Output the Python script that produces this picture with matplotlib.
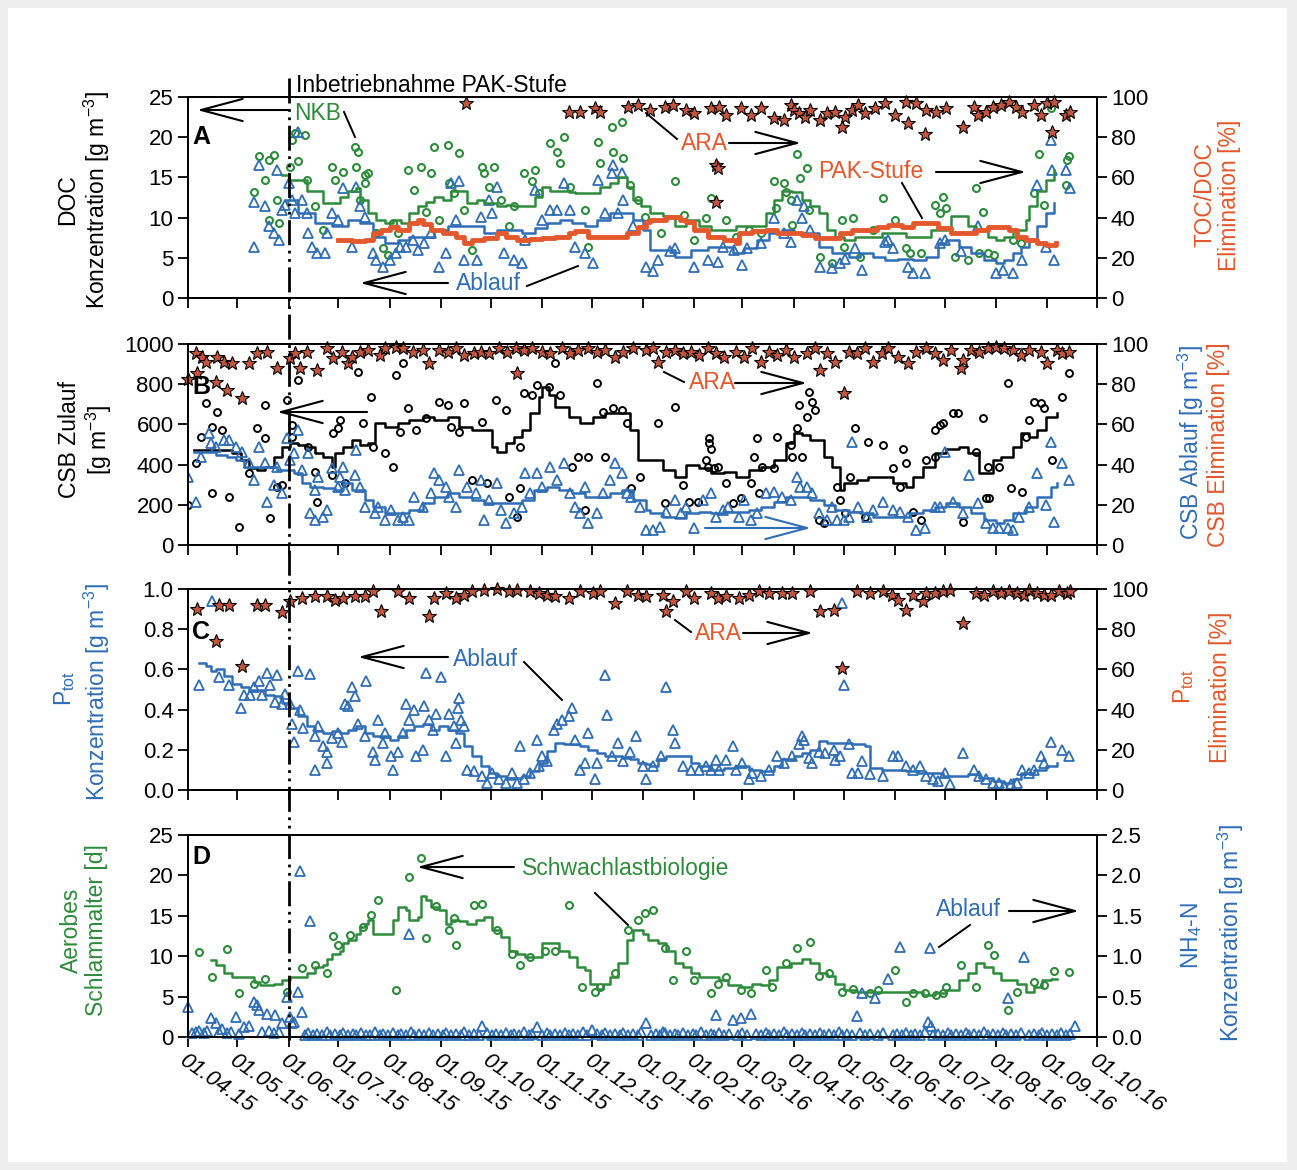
import numpy as np
import matplotlib
matplotlib.use("Agg")
import matplotlib.pyplot as plt
import matplotlib.transforms as mtransforms
import matplotlib.dates as mdates
from matplotlib.lines import Line2D
from matplotlib.patches import Rectangle, FancyArrowPatch

plt.rcParams['font.family'] = ['Liberation Sans', 'DejaVu Sans']
plt.rcParams['mathtext.fontset'] = 'custom'
plt.rcParams['mathtext.rm'] = 'Liberation Sans'
plt.rcParams['mathtext.it'] = 'Liberation Sans:italic'
plt.rcParams['mathtext.bf'] = 'Liberation Sans:bold'

START = np.datetime64('2015-04-01')
END = np.datetime64('2016-10-01')
PAK_START = np.datetime64('2015-06-01')

# (days since 01.04.15, value)
# --- A: DOC
doc_nkb = [(40,13.2),(43,17.6),(47,14.7),(49,17.2),(52,17.8),(54,12.2),(49,9.7),(55,9.3),(62,16.3),(63,19.6),
    (65,20.5),(71,20.3),(67,17.0),(72,14.7),(77,11.4),(82,8.5),(87,16.3),(89,14.7),(94,15.7),(101,18.8),
    (103,18.2),(102,16.3),(107,15.3),(109,15.5),(107,14.3),(104,12.2),(114,8.1),(118,6.2),(121,5.3),(124,9.3),
    (127,8.1),(133,15.9),(141,16.3),(147,15.5),(149,18.8),(157,19.0),(164,18.0),(137,13.4),(144,10.7),(152,9.7),
    (158,14.3),(161,13.0),(167,10.9),(172,6.0),(178,16.3),(179,15.5),(182,13.8),(185,16.3),(189,12.2),(194,8.9),
    (197,11.4),(203,15.5),(210,15.9),(208,14.5),(212,13.0),(219,19.3),(223,18.2),(227,20.0),(225,16.8),(231,13.8),
    (240,10.9),(242,6.4),(248,19.4),(249,16.8),(256,21.3),(262,21.9),(257,18.2),(263,17.4),(267,14.1),(272,12.2),
    (276,10.1),(294,14.5),(286,8.1),(300,10.3),(306,7.2),(313,9.9),(316,12.4),(325,9.7),(331,7.6),(339,8.5),
    (346,8.1),(354,14.5),(360,14.3),(355,11.2),(361,13.2),(364,12.2),(368,17.9),(365,9.1),(370,14.9),(374,16.2),
    (375,10.9),(382,5.1),(389,4.3),(395,9.7),(396,6.4),(402,9.9),(406,5.1),(414,8.5),(420,12.4),(427,9.7),
    (434,6.2),(436,5.6),(443,5.6),(451,11.6),(456,12.6),(454,10.6),(458,11.2),(463,5.1),(471,4.7),(476,13.7),
    (480,10.7),(478,5.6),(483,5.6),(487,5.3),(498,7.2),(503,6.8),(511,13.0),(514,17.9),(517,11.6),(521,23.6),
    (531,17.2),(532,17.6),(530,14.1)]
doc_ablauf = [(40,6.4),(40,12.0),(43,16.5),(47,11.4),(49,8.9),(52,8.1),(54,15.9),(55,7.2),(57,10.9),(59,11.6),
    (61,14.3),(63,12.2),(67,20.7),(65,10.6),(69,12.2),(72,10.6),(73,8.1),(75,6.4),(78,5.6),(83,5.6),
    (84,8.1),(87,10.6),(91,9.7),(94,13.7),(99,6.4),(102,13.8),(104,11.4),(107,10.1),(112,5.6),(114,4.7),
    (118,3.9),(122,4.7),(126,5.6),(128,6.4),(132,6.4),(136,7.2),(139,6.0),(143,6.8),(147,8.1),(152,3.9),
    (156,5.6),(159,14.3),(164,14.5),(162,9.7),(167,4.7),(175,4.7),(177,10.1),(182,12.2),(187,13.8),(184,10.6),
    (191,5.6),(197,4.7),(202,4.3),(204,7.2),(210,13.4),(214,9.7),(219,10.9),(223,10.9),(227,14.3),(231,10.9),
    (234,6.4),(240,5.6),(245,4.3),(248,14.7),(252,10.6),(256,15.5),(257,16.5),(262,15.5),(260,10.6),(263,12.2),
    (269,8.9),(277,3.9),(281,3.3),(284,4.7),(291,5.8),(294,6.2),(306,3.9),(314,4.7),(320,4.5),(323,6.4),
    (330,6.0),(335,4.1),(338,6.2),(346,6.8),(354,9.9),(360,8.1),(364,7.0),(368,12.2),(371,9.9),(372,11.4),
    (376,8.5),(382,3.9),(389,3.7),(394,4.3),(397,4.9),(403,6.2),(407,3.5),(421,7.0),(423,7.2),(426,6.2),
    (435,3.9),(438,3.1),(445,3.1),(454,6.8),(457,7.2),(467,5.8),(477,8.9),(488,3.1),(492,3.5),(498,3.1),
    (504,4.7),(513,14.1),(518,6.4),(522,15.9),(521,19.6),(523,4.7),(530,15.9),(533,13.7)]
doc_nkb_avg = [(57,15.3),(61,14.7),(67,14.7),(72,13.3),(77,13.3),(82,11.8),(87,11.8),(92,12.6),(97,13.3),(102,13.7),
    (104,12.2),(109,10.6),(114,9.7),(119,9.3),(124,9.7),(129,9.3),(134,10.6),(139,11.4),(144,12.0),(149,12.6),
    (154,12.2),(159,13.3),(164,13.3),(169,11.8),(175,12.2),(179,11.8),(187,11.4),(192,11.6),(197,11.4),(204,11.4),
    (210,12.6),(214,13.8),(219,13.3),(225,13.3),(230,13.2),(234,13.0),(240,13.0),(245,13.0),(249,13.8),(255,14.3),
    (260,15.0),(265,13.8),(269,12.2),(274,11.4),(279,10.6),(287,10.2),(294,9.0),(301,9.7),(309,9.0),(316,8.5),
    (324,8.5),(331,8.9),(336,9.0),(344,9.0),(349,10.6),(354,12.2),(359,13.3),(365,13.2),(371,12.2),(376,11.4),
    (381,10.6),(386,8.5),(391,7.6),(396,7.2),(403,7.6),(411,7.6),(419,8.1),(426,8.1),(434,7.6),(441,7.6),
    (449,8.5),(456,8.5),(461,10.2),(466,10.2),(471,9.0),(476,8.5),(483,7.6),(488,7.2),(493,7.6),(498,8.5),
    (503,8.5),(506,9.7),(508,11.4),(513,13.3),(518,14.7),(523,15.9)]
doc_ablauf_avg = [(59,12.2),(67,10.6),(77,9.3),(87,8.9),(97,9.7),(104,9.3),(112,7.6),(119,6.8),(127,7.2),(134,7.6),
    (142,7.6),(149,8.5),(157,8.9),(164,8.9),(172,8.9),(179,8.1),(187,8.5),(194,8.5),(202,8.1),(210,8.7),
    (217,9.3),(225,9.7),(232,9.3),(240,8.9),(247,9.7),(255,10.6),(262,10.6),(269,9.7),(275,8.5),(279,6.0),
    (294,5.1),(304,6.0),(314,6.4),(321,6.4),(329,5.6),(336,6.2),(344,7.2),(351,8.1),(359,8.5),(366,8.1),
    (374,8.1),(381,6.4),(389,5.6),(399,5.1),(406,5.6),(414,5.1),(421,4.7),(429,4.9),(438,4.7),(446,5.1),
    (453,6.8),(458,7.2),(466,6.4),(473,5.6),(481,4.7),(488,4.3),(493,4.7),(498,5.6),(503,6.4),(508,7.2),
    (513,8.9),(518,10.6),(523,11.8)]
doc_pak_elim = [(91,29.0),(99,28.2),(107,29.0),(112,32.3),(117,33.8),(122,35.5),(127,33.8),(134,37.2),(139,38.8),(142,37.0),
    (147,33.8),(154,32.3),(162,30.5),(167,27.2),(172,28.9),(179,29.7),(187,32.3),(192,30.5),(199,28.9),(207,29.5),
    (214,29.7),(222,30.5),(230,32.3),(234,33.1),(242,30.5),(249,30.5),(257,30.5),(265,32.3),(272,35.5),(277,38.0),
    (279,38.8),(289,40.5),(297,38.8),(301,38.0),(306,33.8),(314,30.5),(324,28.9),(331,27.2),(333,32.3),(341,33.1),
    (349,33.8),(356,32.3),(364,32.3),(371,31.5),(379,29.7),(386,29.7),(394,32.3),(401,33.8),(409,33.8),(416,35.5),
    (423,36.3),(431,35.5),(438,37.1),(446,37.1),(453,34.7),(461,32.3),(468,32.3),(476,33.8),(483,35.5),(491,35.5),
    (496,33.8),(501,30.5),(506,28.9),(513,27.2),(518,26.4),(524,27.2)]
doc_ara_elim = [(168,96.8),(230,92.7),(237,92.7),(246,94.4),(249,92.7),(266,95.0),(272,96.0),(279,93.5),(288,95.2),(293,96.0),
    (301,93.5),(306,92.0),(316,94.4),(321,95.2),(325,91.2),(334,94.4),(340,91.2),(346,94.4),(354,89.4),(360,88.6),
    (364,96.0),(366,93.5),(369,92.0),(373,90.2),(376,93.5),(382,88.6),(386,92.0),(391,92.7),(395,85.2),(397,90.2),
    (401,93.5),(405,96.0),(409,92.0),(415,94.4),(421,96.8),(427,91.2),(434,97.5),(435,86.9),(440,96.8),(445,81.6),
    (446,93.5),(452,92.7),(458,94.4),(468,85.2),(475,95.2),(477,91.2),(482,92.7),(486,95.2),(491,96.0),(496,97.5),
    (500,95.2),(504,92.7),(511,96.0),(515,91.2),(519,96.8),(522,82.4),(523,97.5),(530,91.2),(533,92.7),
    (319,66.0),(320,64.5),(319,47.9)]

# --- B: CSB
csb_zulauf = [(0,199),(5,406),(8,539),(11,705),(15,257),(18,663),(15,589),(21,572),(25,240),(31,91),
    (37,357),(42,580),(47,530),(47,697),(50,133),(54,290),(57,299),(60,721),(63,597),(63,539),
    (67,821),(73,489),(77,365),(78,216),(87,348),(88,556),(91,580),(92,622),(95,307),(103,862),
    (106,605),(111,738),(112,490),(119,456),(124,390),(126,846),(128,564),(130,904),(133,680),(138,572),
    (144,630),(152,713),(157,697),(159,589),(164,564),(167,705),(172,323),(178,614),(181,307),(186,721),
    (192,672),(194,240),(199,141),(201,489),(201,282),(203,755),(208,746),(211,796),(218,788),(222,904),
    (225,746),(232,390),(236,440),(240,174),(242,440),(247,804),(251,663),(252,440),(257,680),(262,672),
    (265,605),(268,282),(273,340),(284,605),(288,207),(294,688),(299,299),(303,216),(308,216),(315,506),
    (315,530),(316,480),(313,423),(314,390),(318,381),(320,390),(325,307),(329,207),(334,232),(340,307),
    (342,439),(345,257),(344,530),(347,390),(356,539),(354,381),(364,498),(365,439),(368,580),(369,697),
    (374,638),(375,763),(377,713),(379,672),(371,439),(381,124),(384,108),(392,290),(394,224),(397,158),
    (400,340),(403,580),(409,141),(411,514),(420,498),(426,381),(430,290),(432,480),(434,406),(438,166),
    (443,124),(446,423),(451,440),(451,572),(454,597),(456,605),(462,655),(465,655),(468,116),(476,464),
    (482,232),(484,232),(480,630),(483,390),(490,390),(495,804),(497,282),(504,265),(506,539),(508,622),
    (511,713),(515,705),(517,680),(522,423),(528,738),(532,854)]
csb_zulauf_avg = [(4,473),(11,473),(19,473),(27,456),(32,423),(37,381),(42,373),(47,390),(52,440),(57,490),
    (62,506),(67,498),(72,490),(77,456),(82,440),(87,390),(89,456),(94,490),(99,522),(104,498),
    (109,506),(113,605),(119,589),(127,605),(134,622),(142,638),(149,622),(157,638),(164,589),(172,572),
    (179,572),(184,490),(187,464),(192,506),(197,539),(202,572),(207,655),(212,738),(214,788),(218,746),
    (222,688),(230,638),(237,605),(245,638),(252,655),(260,655),(267,572),(272,423),(277,423),(279,423),
    (287,373),(294,340),(301,398),(309,381),(316,357),(324,365),(331,340),(339,373),(346,390),(354,423),
    (361,506),(366,556),(371,548),(376,522),(384,440),(389,390),(394,274),(396,307),(404,323),(411,340),
    (419,340),(426,307),(434,290),(438,340),(444,390),(451,456),(458,480),(466,489),(471,456),(478,357),
    (486,423),(491,440),(498,490),(503,556),(508,539),(513,572),(518,638),(525,655)]
csb_ablauf = [(0,34.0),(5,21.6),(8,44.0),(13,55.6),(14,50.6),(17,49.0),(22,52.2),(25,52.2),(29,49.0),(33,46.4),
    (37,40.6),(40,32.3),(43,49.0),(47,40.6),(48,21.6),(52,29.9),(54,39.0),(57,25.7),(60,53.0),(62,42.3),
    (64,45.6),(67,57.2),(69,37.3),(73,45.6),(77,27.4),(79,34.0),(74,15.8),(77,12.4),(82,14.1),(84,17.4),
    (87,38.1),(91,29.0),(92,34.0),(94,39.0),(95,27.4),(101,34.8),(102,47.3),(104,29.0),(107,19.0),(113,15.8),
    (115,19.0),(119,12.4),(123,17.4),(127,12.4),(130,14.1),(134,12.4),(137,24.0),(142,19.0),(147,25.7),(149,35.7),
    (152,32.3),(156,29.0),(158,24.0),(162,19.0),(164,37.3),(169,29.0),(174,25.7),(177,32.3),(179,12.4),(182,22.4),
    (187,30.7),(189,17.4),(192,10.8),(197,15.8),(202,19.0),(204,35.7),(207,25.7),(211,35.7),(214,29.0),(219,39.0),
    (223,32.3),(227,40.6),(231,25.7),(234,19.0),(237,15.8),(240,29.0),(242,10.8),(247,15.8),(251,25.7),(255,32.3),
    (258,40.6),(262,35.7),(265,25.7),(268,24.0),(273,19.0),(277,7.5),(281,7.5),(285,9.1),(289,16.6),(294,22.4),
    (298,15.8),(301,19.0),(306,8.3),(311,22.4),(316,25.7),(319,14.1),(323,17.4),(326,19.0),(333,14.1),(336,22.4),
    (340,12.4),(344,15.8),(349,25.7),(354,26.5),(359,24.0),(364,22.4),(368,34.0),(370,29.0),(374,29.0),(377,25.7),
    (381,15.8),(386,12.4),(389,19.0),(392,12.4),(396,12.4),(399,14.1),(401,51.4),(405,19.0),(410,14.1),(414,17.4),
    (420,21.6),(426,17.4),(430,16.6),(435,14.1),(440,7.5),(445,8.3),(451,19.0),(454,19.0),(457,46.4),(462,21.6),
    (468,15.8),(472,34.8),(477,20.7),(482,10.8),(486,8.3),(490,8.3),(495,8.3),(498,7.5),(502,14.1),(508,19.0),
    (513,35.7),(518,19.9),(521,51.4),(523,11.6),(528,40.6),(532,32.3)]
csb_ablauf_avg = [(4,46.4),(11,46.4),(17,44.8),(24,44.0),(29,42.3),(34,39.0),(44,39.0),(49,39.0),(54,37.3),(59,37.3),
    (64,35.7),(69,30.7),(74,29.0),(82,28.2),(89,27.4),(94,30.7),(99,27.4),(107,22.4),(112,19.0),(119,15.8),
    (127,15.8),(134,17.4),(142,20.7),(149,24.0),(157,25.7),(164,24.0),(172,22.4),(179,20.7),(194,20.7),(202,22.4),
    (209,27.4),(217,29.0),(224,27.4),(232,25.7),(240,24.0),(247,24.0),(255,25.7),(262,27.4),(269,22.4),(277,17.4),
    (279,15.8),(287,14.1),(294,13.3),(301,15.8),(309,16.6),(316,15.8),(324,16.6),(331,16.6),(339,17.4),(346,19.0),
    (354,21.6),(361,24.0),(369,24.0),(376,22.4),(384,19.9),(391,17.4),(399,16.6),(406,15.8),(414,14.1),(429,14.1),
    (436,15.8),(444,17.4),(451,19.0),(458,20.7),(466,19.0),(473,15.8),(481,12.4),(488,10.8),(493,12.4),(498,15.8),
    (506,19.0),(513,24.0),(521,29.0),(525,30.7)]
csb_ara_elim = [(0,82.4),(6,85.4),(17,81.3),(24,77.0),(33,73.0),(5,95.4),(9,93.7),(11,91.2),(18,93.7),(22,91.2),
    (27,90.4),(37,90.4),(42,95.4),(48,96.2),(54,87.9),(62,92.9),(65,95.4),(68,87.9),(72,96.2),(78,87.0),
    (84,97.8),(88,92.9),(93,96.2),(97,90.4),(99,93.7),(104,96.2),(109,97.0),(116,94.5),(119,97.8),(126,98.7),
    (130,97.8),(136,96.2),(142,97.0),(146,90.4),(152,97.0),(157,96.2),(162,97.8),(167,94.5),(173,95.4),(177,96.2),
    (182,95.4),(188,97.8),(193,96.2),(199,85.4),(198,97.8),(203,97.0),(208,97.8),(214,96.2),(219,95.4),(226,97.8),
    (231,95.4),(236,97.0),(242,97.8),(247,96.2),(252,97.0),(258,93.7),(263,96.2),(269,97.8),(277,97.0),(281,97.8),
    (284,91.2),(289,96.2),(294,97.0),(299,95.4),(304,96.2),(309,94.5),(314,97.8),(319,95.4),(324,93.7),(331,96.2),
    (336,93.7),(341,97.8),(346,91.2),(351,96.2),(356,94.5),(361,97.0),(366,93.7),(374,95.4),(379,97.8),(382,87.0),
    (386,95.4),(391,91.2),(396,75.5),(399,96.2),(404,95.4),(409,97.8),(414,91.2),(419,95.4),(423,97.8),(429,93.7),
    (435,90.4),(440,96.2),(446,97.8),(451,95.4),(456,92.0),(461,97.0),(467,87.9),(468,92.0),(473,97.0),(478,96.2),
    (483,97.8),(488,98.7),(493,97.8),(498,97.0),(503,94.5),(508,97.0),(515,96.2),(519,90.4),(525,97.0),(528,95.4),
    (532,96.2)]

# --- C: Ptot
p_ablauf = [(7,0.52),(15,0.94),(19,0.56),(25,0.52),(32,0.41),(34,0.475),(38,0.475),(40,0.51),(43,0.54),(45,0.475),
    (48,0.58),(50,0.52),(54,0.57),(53,0.44),(57,0.43),(59,0.48),(62,0.43),(63,0.33),(64,0.24),(67,0.59),
    (68,0.40),(70,0.31),(74,0.575),(77,0.27),(79,0.32),(77,0.10),(82,0.22),(84,0.19),(84,0.135),(87,0.26),
    (91,0.285),(93,0.24),(95,0.43),(97,0.42),(99,0.51),(101,0.47),(103,0.33),(107,0.27),(108,0.54),(112,0.19),
    (113,0.15),(115,0.35),(118,0.235),(119,0.285),(123,0.17),(124,0.10),(127,0.19),(130,0.285),(132,0.43),(134,0.35),
    (137,0.40),(138,0.17),(142,0.20),(143,0.42),(146,0.35),(148,0.30),(144,0.58),(153,0.56),(150,0.38),(156,0.17),
    (158,0.38),(161,0.32),(163,0.41),(164,0.46),(165,0.35),(162,0.235),(167,0.32),(169,0.10),(173,0.094),(178,0.07),
    (181,0.036),(184,0.086),(188,0.053),(192,0.036),(196,0.086),(199,0.036),(201,0.22),(203,0.053),(207,0.086),(211,0.25),
    (212,0.12),(214,0.17),(217,0.145),(221,0.30),(223,0.33),(226,0.35),(230,0.37),(232,0.41),(234,0.25),(237,0.10),
    (240,0.135),(242,0.285),(246,0.053),(247,0.135),(252,0.57),(253,0.375),(256,0.17),(260,0.235),(263,0.145),(267,0.19),
    (271,0.27),(275,0.12),(277,0.053),(281,0.12),(286,0.17),(289,0.51),(293,0.30),(294,0.235),(299,0.12),(304,0.10),
    (309,0.10),(313,0.12),(316,0.10),(319,0.15),(321,0.10),(325,0.15),(329,0.22),(331,0.10),(335,0.135),(339,0.053),
    (341,0.086),(346,0.07),(351,0.10),(356,0.17),(360,0.135),(365,0.17),(369,0.227),(371,0.27),(372,0.25),(375,0.16),
    (377,0.135),(381,0.19),(385,0.185),(390,0.20),(391,0.15),(394,0.17),(396,0.52),(395,0.93),(399,0.227),(401,0.086),
    (405,0.086),(407,0.145),(412,0.078),(420,0.07),(426,0.17),(429,0.17),(434,0.12),(438,0.10),(442,0.12),(446,0.07),
    (450,0.053),(453,0.045),(457,0.086),(460,0.028),(468,0.185),(475,0.10),(478,0.07),(482,0.053),(486,0.036),(490,0.036),
    (493,0.02),(497,0.028),(501,0.036),(504,0.10),(508,0.086),(511,0.10),(515,0.17),(517,0.135),(521,0.24),(528,0.20),
    (532,0.17)]
p_ablauf_avg = [(7,0.63),(11,0.615),(14,0.59),(17,0.60),(22,0.565),(27,0.525),(32,0.51),(37,0.50),(42,0.50),(47,0.475),
    (52,0.467),(57,0.434),(60,0.434),(62,0.41),(67,0.367),(72,0.318),(77,0.293),(82,0.285),(87,0.293),(92,0.285),
    (97,0.30),(102,0.318),(107,0.285),(112,0.268),(117,0.268),(122,0.25),(127,0.268),(132,0.30),(137,0.318),(142,0.326),
    (147,0.30),(152,0.318),(157,0.30),(162,0.285),(167,0.218),(172,0.169),(177,0.12),(182,0.086),(187,0.07),(192,0.053),
    (197,0.06),(202,0.07),(207,0.094),(212,0.136),(217,0.194),(222,0.235),(227,0.227),(232,0.227),(237,0.218),(242,0.20),
    (247,0.185),(252,0.169),(257,0.169),(262,0.16),(267,0.152),(272,0.136),(277,0.127),(279,0.12),(284,0.152),(289,0.169),
    (299,0.169),(304,0.136),(309,0.12),(316,0.10),(324,0.11),(331,0.12),(339,0.10),(346,0.094),(354,0.12),(359,0.152),
    (366,0.169),(371,0.185),(376,0.20),(381,0.243),(386,0.235),(394,0.235),(401,0.227),(409,0.218),(412,0.11),(419,0.10),
    (426,0.10),(434,0.094),(441,0.086),(449,0.086),(456,0.07),(463,0.07),(471,0.078),(478,0.061),(486,0.045),(493,0.036),
    (498,0.053),(503,0.086),(511,0.10),(518,0.12),(525,0.136)]
p_ara_elim = [(6,90.0),(17,74.0),(19,92.2),(25,92.2),(33,61.6),(42,92.2),(47,92.2),(57,88.4),(62,93.9),(69,95.5),
    (77,96.4),(84,96.4),(89,94.7),(94,95.5),(101,96.4),(107,96.4),(112,98.8),(117,89.0),(127,98.8),(134,95.5),
    (146,86.4),(149,95.5),(156,98.0),(162,95.5),(167,97.2),(172,98.8),(179,99.7),(187,100.0),(194,98.8),(199,99.7),
    (207,98.8),(212,98.0),(217,97.2),(222,96.4),(230,95.5),(237,98.8),(245,98.0),(249,98.8),(258,93.0),(265,98.8),
    (272,97.2),(277,96.4),(287,97.2),(289,89.0),(293,93.9),(301,98.8),(306,95.5),(316,98.0),(320,95.5),(325,96.4),
    (333,95.5),(339,97.2),(345,98.8),(351,98.0),(359,98.0),(365,98.0),(376,98.8),(382,89.0),(390,89.7),(395,60.8),
    (404,98.8),(412,98.0),(420,98.8),(425,97.2),(429,94.7),(434,89.7),(438,97.2),(444,93.9),(446,98.0),(451,98.0),
    (456,98.8),(460,99.7),(468,83.1),(476,98.0),(481,97.2),(486,98.8),(491,98.0),(496,98.8),(501,98.0),(505,97.2),
    (508,99.7),(513,98.0),(517,97.2),(521,97.2),(526,98.8),(531,98.0),(533,98.8)]

# --- D: Schlammalter, NH4-N
sludge_age = [(7,10.5),(15,7.4),(24,10.95),(31,5.4),(40,6.6),(47,7.2),(60,5.6),(69,8.5),(77,8.9),(84,7.9),
    (88,12.5),(91,11.4),(98,12.6),(106,13.6),(111,15.1),(115,17.0),(126,5.8),(134,19.8),(141,22.1),(144,12.2),
    (150,16.2),(158,13.2),(161,14.7),(162,11.4),(173,16.3),(178,16.5),(187,13.2),(196,10.3),(201,8.9),(207,9.9),
    (216,10.7),(222,10.7),(230,16.3),(238,6.2),(246,5.6),(249,6.2),(258,7.9),(266,13.2),(272,14.5),(276,15.3),
    (281,15.7),(288,11.0),(293,7.0),(301,10.7),(306,7.0),(316,5.4),(320,6.6),(325,7.4),(334,5.8),(340,5.4),
    (349,8.3),(353,6.2),(361,9.1),(368,11.0),(376,11.8),(381,7.6),(387,7.9),(395,5.6),(402,6.0),(412,5.4),
    (417,5.8),(427,8.3),(434,4.3),(438,5.4),(445,5.4),(452,5.2),(456,5.4),(458,6.2),(467,8.9),(476,6.2),
    (483,11.4),(487,10.1),(495,3.3),(501,5.6),(511,6.8),(517,6.4),(523,8.2),(532,8.0)]
sludge_age_avg = [(14,9.5),(17,8.9),(22,7.9),(27,7.4),(37,7.4),(40,6.8),(44,6.4),(52,6.6),(57,7.0),(60,7.0),
    (62,7.4),(67,7.4),(72,7.9),(77,8.7),(82,8.9),(84,9.7),(87,10.3),(92,10.7),(94,11.6),(97,12.0),
    (102,12.8),(104,13.6),(107,14.0),(109,14.5),(112,12.8),(119,12.8),(124,14.5),(127,16.1),(132,15.7),(134,14.5),
    (139,14.9),(141,17.4),(144,16.9),(147,16.1),(152,15.7),(156,14.0),(159,14.5),(164,14.3),(169,14.0),(174,14.5),
    (179,14.9),(184,13.2),(189,12.4),(194,10.7),(199,10.3),(204,9.9),(209,9.9),(214,11.6),(219,11.6),(224,10.7),
    (230,9.9),(235,8.7),(240,8.3),(243,6.6),(247,6.0),(251,6.6),(255,7.4),(260,9.1),(265,12.0),(269,13.2),
    (275,12.8),(278,12.0),(284,11.6),(289,10.7),(294,9.1),(299,8.7),(304,7.9),(309,7.4),(316,7.4),(321,7.0),
    (326,6.4),(334,6.2),(341,6.6),(346,6.4),(351,7.0),(356,8.7),(364,9.1),(371,9.7),(376,9.1),(381,7.9),
    (386,7.6),(391,6.6),(396,5.8),(404,5.6),(419,5.6),(438,5.6),(444,5.2),(451,5.4),(458,5.8),(466,7.0),
    (471,7.9),(476,9.1),(481,8.7),(486,7.9),(491,7.0),(496,7.0),(501,6.6),(506,5.6),(511,6.2),(516,7.0),
    (521,7.2),(525,7.2)]
nh4_ablauf = [(0,0.37),(3,0.05),(5,0.06),(7,0.08),(10,0.05),(12,0.07),(14,0.23),(17,0.17),(19,0.06),(21,0.10),
    (24,0.05),(26,0.06),(29,0.25),(31,0.04),(34,0.12),(37,0.14),(40,0.43),(42,0.39),(43,0.33),(45,0.06),
    (48,0.29),(49,0.08),(52,0.05),(53,0.27),(55,0.06),(57,0.17),(60,0.50),(62,0.25),(63,0.17),(64,0.19),
    (67,0.56),(68,2.05),(69,0.31),(74,1.43),(134,1.28),(211,0.12),(277,0.17),(319,0.27),(329,0.21),(334,0.23),
    (340,0.29),(404,0.26),(407,0.54),(415,0.48),(423,0.72),(430,1.12),(448,1.10),(447,0.19),(449,0.14),(495,0.48),
    (505,0.99),(536,0.14),(178,0.14),(244,0.09),(287,0.06),
    (71,0.03),(73,0.05),(76,0.02),(78,0.04),(81,0.03),(84,0.06),(86,0.02),(89,0.04),(92,0.03),(94,0.05),
    (97,0.02),(100,0.04),(102,0.03),(105,0.05),(108,0.02),(110,0.03),(113,0.06),(116,0.02),(118,0.04),(121,0.03),
    (124,0.05),(127,0.02),(129,0.04),(132,0.03),(135,0.06),(137,0.02),(140,0.04),(143,0.03),(146,0.05),(148,0.02),
    (151,0.04),(154,0.03),(156,0.05),(159,0.02),(162,0.04),(165,0.03),(167,0.06),(170,0.02),(173,0.04),(176,0.03),
    (181,0.05),(184,0.02),(186,0.04),(189,0.03),(192,0.05),(195,0.02),(197,0.04),(200,0.03),(203,0.06),(206,0.02),
    (208,0.04),(214,0.03),(217,0.05),(219,0.02),(222,0.04),(225,0.03),(228,0.05),(230,0.02),(233,0.04),(236,0.03),
    (239,0.06),(241,0.02),(247,0.04),(250,0.03),(252,0.05),(255,0.02),(258,0.04),(261,0.03),(263,0.05),(266,0.02),
    (269,0.04),(272,0.03),(274,0.06),(280,0.02),(283,0.04),(285,0.03),(288,0.05),(291,0.02),(294,0.04),(296,0.03),
    (299,0.05),(302,0.02),(305,0.04),(307,0.03),(310,0.06),(313,0.02),(316,0.04),(318,0.03),(321,0.05),(324,0.02),
    (327,0.04),(332,0.03),(335,0.05),(338,0.02),(343,0.04),(346,0.03),(349,0.05),(351,0.02),(354,0.04),(357,0.03),
    (360,0.06),(362,0.02),(365,0.04),(368,0.03),(371,0.05),(373,0.02),(376,0.04),(379,0.03),(382,0.05),(384,0.02),
    (387,0.04),(390,0.03),(393,0.06),(395,0.02),(398,0.04),(401,0.03),(406,0.05),(409,0.02),(412,0.04),(417,0.03),
    (420,0.05),(426,0.02),(428,0.04),(431,0.03),(434,0.05),(437,0.02),(439,0.04),(442,0.03),(445,0.06),(450,0.02),
    (453,0.04),(456,0.03),(459,0.05),(461,0.02),(464,0.04),(467,0.03),(470,0.05),(472,0.02),(475,0.04),(478,0.03),
    (481,0.06),(483,0.02),(486,0.04),(489,0.03),(492,0.05),(494,0.02),(497,0.04),(500,0.03),(503,0.05),(508,0.02),
    (511,0.04),(514,0.03),(516,0.05),(519,0.02),(522,0.04),(525,0.03),(527,0.05),(530,0.02),(533,0.04)]

GREEN = '#2e8b3c'
BLUE = '#2f6db5'
ORANGE = '#e3582c'
STARFACE = '#c4553a'


def xs(pairs):
    return START + np.array([p[0] for p in pairs]).astype('timedelta64[D]')


def ys(pairs):
    return np.array([p[1] for p in pairs], dtype=float)


W, H = 1297, 1170
fig = plt.figure(figsize=(W / 100, H / 100), dpi=100, facecolor='#eeeeee')
fig.patches.append(Rectangle((8 / W, 8 / H), 1279 / W, 1154 / H, transform=fig.transFigure,
                             facecolor='white', edgecolor='none', zorder=-10))

tick_dates = np.arange(np.datetime64('2015-04'), np.datetime64('2016-11'),
                       dtype='datetime64[M]').astype('datetime64[D]')
tick_labels = [d.astype(object).strftime('%d.%m.%y') for d in tick_dates]


def fp(x, y):
    return (x / W, 1 - y / H)


def make_panel(top, bottom, show_dates=False):
    ax = fig.add_axes([187.5 / W, 1 - bottom / H, 909.5 / W, (bottom - top) / H])
    tx = ax.twinx()
    ax.set_xlim(START, END)
    ax.set_xticks(tick_dates)
    if show_dates:
        ax.set_xticklabels(tick_labels, rotation=-35, ha='left', va='top',
                           rotation_mode='anchor', fontstyle='italic', fontsize=16.5)
    else:
        ax.set_xticklabels([])
    for a in (ax, tx):
        a.tick_params(direction='out', length=7, width=1.3, labelsize=16, pad=3)
        for s in a.spines.values():
            s.set_linewidth(1.3)
    ax.tick_params(axis='x', pad=2)
    return ax, tx


ms_c, ms_t, ms_s = 5, 6.5, 10.5
STEP = 'steps-post'

# ---------- Panel A
axA, txA = make_panel(97, 298)
axA.plot(xs(doc_nkb), ys(doc_nkb), 'o', mfc='none', mec=GREEN, ms=ms_c, mew=1.5)
axA.plot(xs(doc_ablauf), ys(doc_ablauf), '^', mfc='none', mec=BLUE, ms=ms_t, mew=1.3)
axA.plot(xs(doc_ablauf_avg), ys(doc_ablauf_avg), '-', color=BLUE, lw=1.8, drawstyle=STEP)
axA.plot(xs(doc_nkb_avg), ys(doc_nkb_avg), '-', color=GREEN, lw=1.8, drawstyle=STEP)
axA.set_ylim(0, 25)
axA.set_yticks([0, 5, 10, 15, 20, 25])
txA.plot(xs(doc_pak_elim), ys(doc_pak_elim), '-', color=ORANGE, lw=3.5, drawstyle=STEP)
txA.plot(xs(doc_ara_elim), ys(doc_ara_elim), '*', mfc=STARFACE, mec='black', ms=ms_s, mew=0.8, clip_on=False)
txA.set_ylim(0, 100)
txA.set_yticks([0, 20, 40, 60, 80, 100])

# ---------- Panel B
axB, txB = make_panel(344, 545)
axB.plot(xs(csb_zulauf), ys(csb_zulauf), 'o', mfc='none', mec='black', ms=ms_c, mew=1.4)
axB.plot(xs(csb_zulauf_avg), ys(csb_zulauf_avg), '-', color='black', lw=1.8, drawstyle=STEP)
axB.set_ylim(0, 1000)
axB.set_yticks([0, 200, 400, 600, 800, 1000])
txB.plot(xs(csb_ablauf), ys(csb_ablauf), '^', mfc='none', mec=BLUE, ms=ms_t, mew=1.3)
txB.plot(xs(csb_ablauf_avg), ys(csb_ablauf_avg), '-', color=BLUE, lw=1.8, drawstyle=STEP)
txB.plot(xs(csb_ara_elim), ys(csb_ara_elim), '*', mfc=STARFACE, mec='black', ms=ms_s, mew=0.8, clip_on=False)
txB.set_ylim(0, 100)
txB.set_yticks([0, 20, 40, 60, 80, 100])

# ---------- Panel C
axC, txC = make_panel(589, 790)
axC.plot(xs(p_ablauf), ys(p_ablauf), '^', mfc='none', mec=BLUE, ms=ms_t, mew=1.3)
axC.plot(xs(p_ablauf_avg), ys(p_ablauf_avg), '-', color=BLUE, lw=1.8, drawstyle=STEP)
axC.set_ylim(0, 1.0)
axC.set_yticks([0, 0.2, 0.4, 0.6, 0.8, 1.0])
axC.set_yticklabels(['0.0', '0.2', '0.4', '0.6', '0.8', '1.0'])
txC.plot(xs(p_ara_elim), ys(p_ara_elim), '*', mfc=STARFACE, mec='black', ms=ms_s, mew=0.8, clip_on=False)
txC.set_ylim(0, 100)
txC.set_yticks([0, 20, 40, 60, 80, 100])

# ---------- Panel D
axD, txD = make_panel(835, 1037, show_dates=True)
axD.plot(xs(sludge_age), ys(sludge_age), 'o', mfc='none', mec=GREEN, ms=ms_c, mew=1.5)
axD.plot(xs(sludge_age_avg), ys(sludge_age_avg), '-', color=GREEN, lw=1.8, drawstyle=STEP)
axD.set_ylim(0, 25)
axD.set_yticks([0, 5, 10, 15, 20, 25])
txD.plot(xs(nh4_ablauf), ys(nh4_ablauf), '^', mfc='none', mec=BLUE, ms=ms_t, mew=1.3, clip_on=False)
txD.set_ylim(0, 2.5)
txD.set_yticks([0, 0.5, 1.0, 1.5, 2.0, 2.5])
txD.set_yticklabels(['0.0', '0.5', '1.0', '1.5', '2.0', '2.5'])

# panel letters (under the twin-axis stars)
for letter, py in (('A', 137), ('B', 387), ('C', 632), ('D', 857)):
    fig.text(*fp(192, py), letter, fontsize=18, fontweight='bold', ha='left', va='center', zorder=0.5)

# axis labels
FS = 16.5


def vlabel(x, y, s, color):
    fig.text(*fp(x, y), s, rotation=90, ha='center', va='center', multialignment='center',
             fontsize=FS, color=color, linespacing=1.1)


vlabel(84, 200, 'DOC\nKonzentration [g m$^{-3}$]', 'black')
vlabel(1217, 195, 'TOC/DOC\nElimination [%]', ORANGE)
vlabel(86, 440, 'CSB Zulauf\n[g m$^{-3}$]', 'black')
vlabel(1191, 443, 'CSB Ablauf [g m$^{-3}$]', BLUE)
vlabel(1219, 445, 'CSB Elimination [%]', ORANGE)
vlabel(65, 688, 'P$_{\\rm tot}$', BLUE)
vlabel(97, 692, 'Konzentration [g m$^{-3}$]', BLUE)
vlabel(1184, 686, 'P$_{\\rm tot}$', ORANGE)
vlabel(1221, 687, 'Elimination [%]', ORANGE)
vlabel(84, 930, 'Aerobes\nSchlammalter [d]', GREEN)
vlabel(1192, 935, 'NH$_4$-N', BLUE)
vlabel(1231, 933, 'Konzentration [g m$^{-3}$]', BLUE)

# PAK start marker
x_pak = mdates.date2num(PAK_START)
fig.add_artist(Line2D([x_pak, x_pak], [1 - 78 / H, 1 - 1040 / H],
                      transform=mtransforms.blended_transform_factory(axA.transData, fig.transFigure),
                      color='black', lw=2, linestyle=(0, (9, 2, 1, 2, 1, 2))))
fig.text(*fp(296, 85), 'Inbetriebnahme PAK-Stufe', fontsize=FS, ha='left', va='center')


def arrow(tail, tip, color='black'):
    fig.add_artist(FancyArrowPatch(fp(*tail), fp(*tip), transform=fig.transFigure,
                                   arrowstyle='->,head_length=3.0,head_width=0.8', mutation_scale=10,
                                   lw=1.5, color=color, shrinkA=0, shrinkB=0))


def leader(p0, p1):
    fig.add_artist(Line2D([p0[0] / W, p1[0] / W], [1 - p0[1] / H, 1 - p1[1] / H],
                          transform=fig.transFigure, color='black', lw=1.4))


def note(x, y, s, color, ha='center'):
    fig.text(*fp(x, y), s, fontsize=FS, color=color, ha=ha, va='center')


# A
arrow((288, 110), (197, 110))
note(294, 113, 'NKB', GREEN, ha='left')
leader((344, 112), (355, 137))
note(704, 143, 'ARA', ORANGE)
leader((646, 113), (677, 139))
arrow((729, 143), (801, 143))
note(871, 172, 'PAK-Stufe', ORANGE)
leader((902, 183), (922, 218))
arrow((936, 172), (1026, 172))
note(488, 283, 'Ablauf', BLUE)
arrow((448, 283), (360, 283))
leader((527, 286), (578, 266))
# B
arrow((367, 412), (277, 412))
note(712, 383, 'ARA', ORANGE)
leader((664, 372), (684, 382))
arrow((735, 383), (807, 383))
arrow((705, 528), (811, 528), color=BLUE)
# C
arrow((448, 657), (358, 657))
note(485, 660, 'Ablauf', BLUE)
leader((524, 662), (562, 700))
note(718, 633, 'ARA', ORANGE)
leader((675, 620), (691, 632))
arrow((743, 633), (813, 633))
# D
arrow((514, 867), (417, 867))
note(626, 869, 'Schwachlastbiologie', GREEN)
leader((595, 893), (628, 925))
note(968, 910, 'Ablauf', BLUE)
arrow((1009, 911), (1079, 911))
leader((970, 925), (939, 947))

fig.savefig('out.png', dpi=100, facecolor=fig.get_facecolor())
